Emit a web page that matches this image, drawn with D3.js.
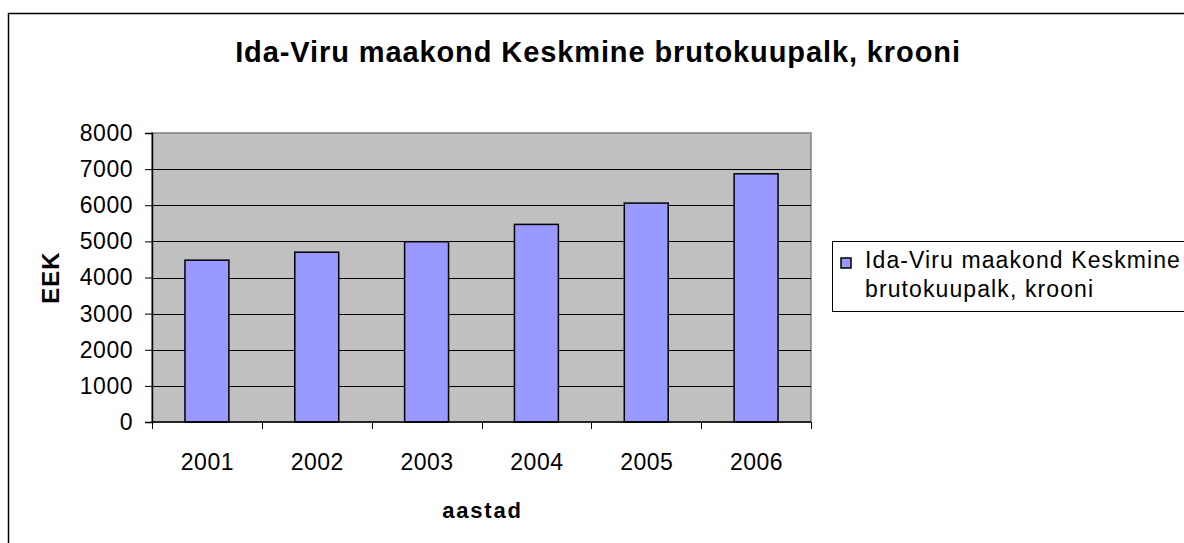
<!DOCTYPE html>
<html>
<head>
<meta charset="utf-8">
<script src="https://cdn.jsdelivr.net/npm/d3@7.9.0/dist/d3.min.js"></script>
<style>
  html, body { margin: 0; padding: 0; background: #fff; }
  svg { display: block; font-family: "Liberation Sans", Arial, sans-serif; }
</style>
</head>
<body>
<svg id="chart" width="1184" height="543"></svg>
<script>
// ---------- Data ----------
const years = ["2001", "2002", "2003", "2004", "2005", "2006"];
const wages = [4480, 4700, 4990, 5470, 6060, 6870];
const yTicks = [0, 1000, 2000, 3000, 4000, 5000, 6000, 7000, 8000];

const titleText = "Ida-Viru maakond Keskmine brutokuupalk, krooni";
const legendLines = ["Ida-Viru maakond Keskmine", "brutokuupalk, krooni"];

// ---------- Layout ----------
const width = 1184;
const height = 543;
const plot = { left: 152, right: 811, top: 133, bottom: 422 };

const svg = d3.select("#chart");

// outer chart frame (runs off the right / bottom edge)
svg.append("rect")
  .attr("x", 8.5).attr("y", 13.5)
  .attr("width", width + 20).attr("height", height + 20)
  .attr("fill", "#fff")
  .attr("stroke", "#000")
  .attr("stroke-width", 1.5);

svg.append("text")
  .attr("x", 598).attr("y", 62)
  .attr("text-anchor", "middle")
  .attr("font-size", 29)
  .attr("font-weight", "bold")
  .attr("letter-spacing", 0.9)
  .text(titleText);

// ---------- Scales ----------
const x = d3.scaleBand()
  .domain(years)
  .range([plot.left, plot.right])
  .paddingInner(0.6)
  .paddingOuter(0.3);

const y = d3.scaleLinear()
  .domain([0, 8000])
  .range([plot.bottom, plot.top]);

// plot area
svg.append("rect")
  .attr("x", plot.left).attr("y", plot.top)
  .attr("width", plot.right - plot.left)
  .attr("height", plot.bottom - plot.top)
  .attr("fill", "#c0c0c0")
  .attr("stroke", "#808080")
  .attr("stroke-width", 1.5);

// gridlines
svg.append("g")
  .selectAll("line")
  .data(yTicks.filter((d) => d > 0 && d < 8000))
  .join("line")
  .attr("x1", plot.left).attr("x2", plot.right)
  .attr("y1", (d) => Math.round(y(d)) + 0.5)
  .attr("y2", (d) => Math.round(y(d)) + 0.5)
  .attr("stroke", "#000")
  .attr("stroke-width", 1);

// bars
svg.append("g")
  .selectAll("rect")
  .data(years.map((yr, i) => ({ yr, v: wages[i] })))
  .join("rect")
  .attr("x", (d) => x(d.yr))
  .attr("y", (d) => y(d.v))
  .attr("width", x.bandwidth())
  .attr("height", (d) => plot.bottom - y(d.v))
  .attr("fill", "#9999ff")
  .attr("stroke", "#000")
  .attr("stroke-width", 1.5);

// ---------- Axes ----------
const yAxis = d3.axisLeft(y)
  .tickValues(yTicks)
  .tickSize(7)
  .tickPadding(12)
  .tickFormat(d3.format("d"));

svg.append("g")
  .attr("transform", `translate(${plot.left},0)`)
  .call(yAxis)
  .call((g) => g.select(".domain").attr("stroke", "#000").attr("stroke-width", 1.5))
  .call((g) => g.selectAll(".tick line").attr("stroke", "#000"))
  .call((g) => g.selectAll(".tick text")
    .attr("font-size", 23)
    .attr("letter-spacing", 0.5)
    .attr("font-family", "Liberation Sans, Arial, sans-serif")
    .attr("fill", "#000"));

// x axis: ticks on category boundaries
const step = x.step();
const boundaries = d3.range(years.length + 1).map((i) => plot.left + i * step);

const xAxisG = svg.append("g");
xAxisG.append("line")
  .attr("x1", plot.left).attr("x2", plot.right)
  .attr("y1", plot.bottom).attr("y2", plot.bottom)
  .attr("stroke", "#000")
  .attr("stroke-width", 1.5);
xAxisG.selectAll("line.tk")
  .data(boundaries)
  .join("line")
  .attr("class", "tk")
  .attr("x1", (d) => Math.round(d) + 0.5).attr("x2", (d) => Math.round(d) + 0.5)
  .attr("y1", plot.bottom).attr("y2", plot.bottom + 7)
  .attr("stroke", "#000");
xAxisG.selectAll("text")
  .data(years)
  .join("text")
  .attr("x", (d) => x(d) + x.bandwidth() / 2 + 0.5)
  .attr("y", 470)
  .attr("text-anchor", "middle")
  .attr("font-size", 23)
  .attr("letter-spacing", 0.5)
  .text((d) => d);

// axis titles
svg.append("text")
  .attr("x", (plot.left + plot.right) / 2 + 1)
  .attr("y", 518)
  .attr("text-anchor", "middle")
  .attr("font-size", 22)
  .attr("font-weight", "bold")
  .attr("letter-spacing", 1.8)
  .text("aastad");

svg.append("text")
  .attr("transform", `translate(59,${(plot.top + plot.bottom) / 2}) rotate(-90)`)
  .attr("text-anchor", "middle")
  .attr("font-size", 24)
  .attr("font-weight", "bold")
  .attr("letter-spacing", 1)
  .text("EEK");

// ---------- Legend ----------
const legend = svg.append("g").attr("transform", "translate(832,241)");
legend.append("rect")
  .attr("x", 0.5).attr("y", 0.5)
  .attr("width", 400).attr("height", 70)
  .attr("fill", "#fff")
  .attr("stroke", "#000");
legend.append("rect")
  .attr("x", 9).attr("y", 17)
  .attr("width", 10).attr("height", 10)
  .attr("fill", "#9999ff")
  .attr("stroke", "#000")
  .attr("stroke-width", 1.5);
legend.selectAll("text.lg")
  .data(legendLines)
  .join("text")
  .attr("class", "lg")
  .attr("x", 33)
  .attr("y", (d, i) => 27 + i * 29)
  .attr("font-size", 23)
  .attr("letter-spacing", 1.1)
  .text((d) => d);
</script>
</body>
</html>
